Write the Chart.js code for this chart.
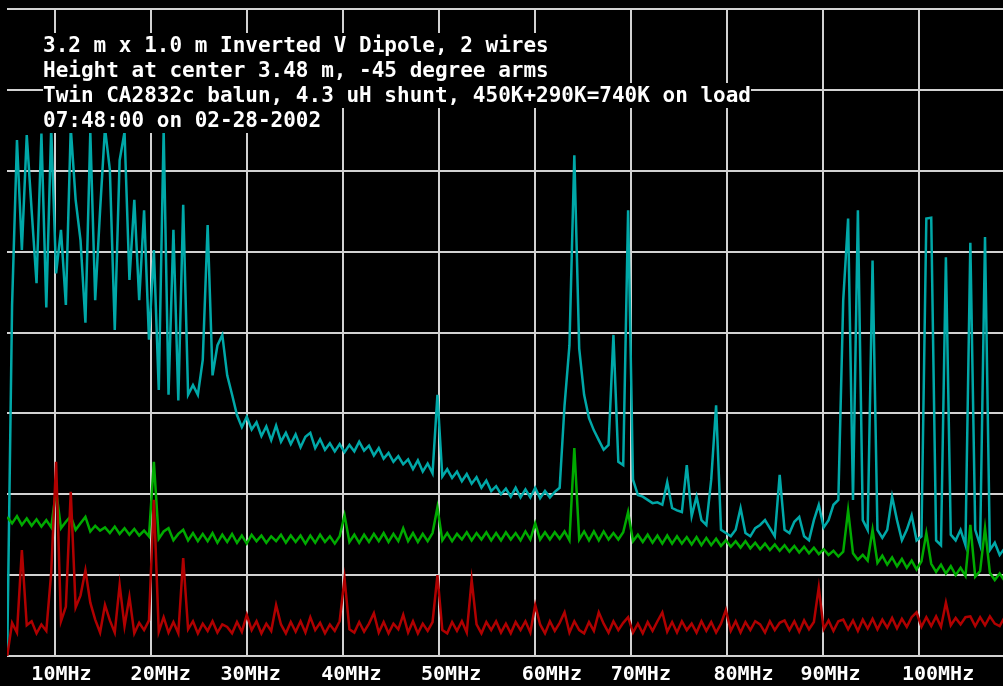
<!DOCTYPE html>
<html lang="en">
<head>
    <meta charset="UTF-8">
    <title>Inverted V Dipole - noise spectrum</title>
    <script src="https://cdn.jsdelivr.net/npm/chart.js"></script>
    <style>
        body { margin: 0; background: #000; }
        #wrap { position: relative; width: 1003px; height: 686px; }
        #notes {
            position: absolute; left: 43px; top: 33px;
            font: bold 21px/25px 'DejaVu Sans Mono', monospace;
            color: #fff;
        }
        #notes div { background: #000; width: fit-content; white-space: pre; }
    </style>
</head>
<body>
<div id="wrap">
    <canvas id="spectrum" width="1003" height="686"></canvas>
    <div id="notes">
        <div>3.2 m x 1.0 m Inverted V Dipole, 2 wires</div>
        <div>Height at center 3.48 m, -45 degree arms</div>
        <div>Twin CA2832c balun, 4.3 uH shunt, 450K+290K=740K on load</div>
        <div>07:48:00 on 02-28-2002</div>
    </div>
</div>

<script>
// sweep: one sample every 0.5 MHz starting at 4.6 MHz
const START_MHZ = 4.6;
const STEP_MHZ = 0.5;

// vertical grid lines and where the frequency labels sit (MHz)
const gridMHz = [9.49, 19.31, 29.13, 38.94, 48.76, 58.58, 68.40, 78.22, 88.03, 97.85];
const labelMHz = [10.15, 20.3, 29.5, 39.8, 50.0, 60.3, 69.4, 79.9, 88.8, 99.8];
const tickLabels = ['10MHz', '20MHz', '30MHz', '40MHz', '50MHz', '60MHz', '70MHz', '80MHz', '90MHz', '100MHz'];

// levels in dB above bottom line, 10 dB per division
const cyanTrace = [
    0, 43.4, 63.8, 50.2, 64.4, 55.1, 46.1, 64.6, 43.1, 65.3,
    47.3, 52.7, 43.4, 65.3, 56.4, 51.4, 41.2, 64.8, 44.0, 55.1,
    65.3, 60.1, 40.3, 61.3, 64.8, 46.5, 56.4, 44.0, 55.1, 39.1,
    50.2, 32.9, 65.0, 32.3, 52.7, 31.6, 55.8, 32.3, 33.5, 32.3,
    36.6, 53.3, 34.7, 38.4, 39.7, 34.7, 32.3, 29.8, 28.3, 29.6,
    28.0, 28.9, 27.2, 28.4, 26.7, 28.5, 26.5, 27.6, 26.2, 27.4,
    25.8, 27.1, 27.6, 25.7, 26.8, 25.5, 26.3, 25.3, 26.2, 25.2,
    26.1, 25.3, 26.5, 25.4, 26.0, 24.8, 25.7, 24.4, 25.1, 24.0,
    24.7, 23.7, 24.3, 23.1, 24.2, 22.8, 23.8, 22.6, 32.3, 22.2,
    23.1, 22.0, 22.8, 21.6, 22.5, 21.3, 22.1, 20.8, 21.7, 20.4,
    21.0, 20.0, 20.7, 19.7, 20.8, 19.6, 20.6, 19.6, 20.8, 19.5,
    20.4, 19.6, 20.3, 20.8, 31.0, 38.4, 61.9, 38.0, 32.3, 29.4,
    27.9, 26.7, 25.5, 26.1, 39.7, 24.0, 23.6, 55.1, 21.8, 19.9,
    19.7, 19.3, 18.9, 19.0, 18.7, 21.5, 18.3, 18.0, 17.8, 23.6,
    17.3, 19.7, 16.8, 16.2, 21.8, 31.0, 15.6, 15.2, 14.8, 15.6,
    18.3, 15.2, 14.8, 15.8, 16.2, 16.8, 15.8, 14.8, 22.4, 15.6,
    15.2, 16.6, 17.2, 14.8, 14.3, 16.8, 18.7, 15.9, 16.8, 18.7,
    19.3, 44.0, 54.1, 19.3, 55.1, 16.8, 15.6, 48.9, 15.6, 14.6,
    15.6, 19.7, 16.8, 14.3, 15.6, 17.4, 14.3, 14.8, 54.1, 54.2,
    14.3, 13.7, 49.3, 15.0, 14.3, 15.6, 13.7, 51.1, 15.6, 13.7,
    51.8, 13.1, 14.0, 12.5, 13.3
];

const greenTrace = [
    17.2, 16.4, 17.3, 16.2, 17.0, 16.1, 16.9, 16.0, 16.8, 15.9,
    20.5, 15.8, 16.6, 17.3, 15.6, 16.4, 17.2, 15.4, 16.1, 15.5,
    15.9, 15.2, 16.0, 15.1, 15.8, 15.0, 15.7, 14.9, 15.5, 14.8,
    24.0, 14.5, 15.4, 15.8, 14.3, 15.1, 15.6, 14.3, 15.2, 14.2,
    15.1, 14.2, 15.2, 14.0, 15.0, 14.1, 15.1, 14.0, 14.9, 13.9,
    15.0, 14.2, 14.9, 14.0, 14.8, 14.2, 15.0, 14.0, 14.9, 14.1,
    14.9, 13.9, 14.9, 14.0, 15.0, 14.1, 14.8, 13.9, 14.8, 17.4,
    14.1, 15.0, 14.0, 15.0, 14.1, 15.1, 14.2, 15.2, 14.1, 15.1,
    14.2, 15.8, 14.2, 15.2, 14.1, 15.1, 14.2, 15.2, 18.4, 14.3,
    15.2, 14.2, 15.1, 14.4, 15.3, 14.3, 15.2, 14.4, 15.3, 14.3,
    15.2, 14.3, 15.3, 14.4, 15.2, 14.3, 15.4, 14.4, 16.4, 14.4,
    15.3, 14.4, 15.3, 14.5, 15.4, 14.3, 25.7, 14.4, 15.4, 14.3,
    15.4, 14.3, 15.4, 14.4, 15.2, 14.4, 15.3, 17.8, 14.2, 15.0,
    14.1, 15.0, 14.0, 14.9, 13.9, 14.9, 13.9, 14.8, 13.9, 14.7,
    13.8, 14.7, 13.7, 14.6, 13.7, 14.5, 13.6, 14.3, 13.5, 14.2,
    13.4, 14.2, 13.3, 14.0, 13.2, 13.9, 13.1, 13.8, 13.0, 13.7,
    12.9, 13.6, 12.8, 13.5, 12.7, 13.4, 12.6, 13.2, 12.5, 13.0,
    12.3, 12.9, 18.0, 12.7, 11.9, 12.5, 11.8, 15.6, 11.5, 12.4,
    11.3, 12.2, 11.1, 12.0, 10.9, 11.8, 10.7, 11.7, 15.2, 11.4,
    10.4, 11.3, 10.2, 11.1, 10.0, 10.9, 9.9, 16.2, 9.8, 10.5,
    15.8, 10.3, 9.4, 10.2, 9.3
];

const redTrace = [
    0, 4.1, 2.9, 13.1, 3.8, 4.3, 2.8, 3.9, 3.1, 10.3,
    24.0, 4.3, 6.1, 20.3, 6.0, 7.5, 10.6, 6.6, 4.5, 2.9,
    6.3, 4.4, 2.9, 8.8, 3.7, 7.3, 2.8, 4.1, 3.2, 4.4,
    19.3, 3.0, 4.8, 2.9, 4.2, 2.8, 12.1, 3.3, 4.3, 2.8,
    4.0, 3.1, 4.3, 2.9, 3.9, 3.6, 2.8, 4.2, 3.0, 5.1,
    3.2, 4.3, 2.8, 4.0, 3.1, 6.3, 3.9, 2.8, 4.2, 3.0,
    4.3, 2.9, 4.8, 3.2, 4.1, 2.8, 3.9, 3.1, 4.3, 9.6,
    3.3, 2.9, 4.2, 3.0, 4.0, 5.3, 2.9, 4.2, 2.8, 4.0,
    3.3, 5.1, 2.9, 4.3, 2.8, 4.0, 3.1, 4.2, 10.0, 3.2,
    2.8, 4.2, 3.1, 4.3, 2.9, 9.4, 3.9, 2.8, 4.2, 3.2,
    4.3, 2.9, 4.0, 2.8, 4.2, 3.2, 4.3, 2.9, 6.3, 3.9,
    2.8, 4.3, 3.1, 4.1, 5.4, 2.9, 4.3, 3.2, 2.8, 4.2,
    3.1, 5.4, 4.0, 2.9, 4.3, 3.2, 4.1, 4.8, 2.9, 4.0,
    2.8, 4.2, 3.1, 4.3, 5.4, 3.0, 4.2, 2.9, 4.3, 3.2,
    4.0, 2.9, 4.3, 3.1, 4.2, 2.9, 4.0, 5.7, 3.1, 4.3,
    2.9, 4.2, 3.2, 4.3, 3.9, 2.9, 4.3, 3.2, 4.1, 4.4,
    3.2, 4.3, 3.0, 4.4, 3.3, 4.2, 8.5, 3.3, 4.4, 3.1,
    4.3, 4.5, 3.3, 4.4, 3.1, 4.5, 3.4, 4.6, 3.3, 4.5,
    3.5, 4.7, 3.4, 4.6, 3.6, 4.8, 5.4, 3.6, 4.8, 3.7,
    4.9, 3.6, 6.6, 3.8, 4.7, 3.9, 4.8, 4.9, 3.7, 4.8,
    3.8, 4.9, 4.0, 3.7, 4.8
];

const toPoints = arr => arr.map((v, i) => ({ x: START_MHZ + STEP_MHZ * i, y: v }));

const trace = (data, color) => ({
    data: toPoints(data),
    borderColor: color,
    borderWidth: 2.5,
    pointRadius: 0,
    tension: 0,
    fill: false
});

const GRID = '#d2d2d2';

new Chart(document.getElementById('spectrum'), {
    type: 'line',
    data: {
        // first dataset is painted last, so red ends up on top
        datasets: [
            trace(redTrace, '#b00000'),
            trace(greenTrace, '#00aa00'),
            trace(cyanTrace, '#00a8a8')
        ]
    },
    options: {
        responsive: false,
        animation: false,
        events: [],
        layout: { padding: { left: 7, top: 9, right: 0, bottom: 0 } },
        plugins: { legend: { display: false }, tooltip: { enabled: false } },
        scales: {
            x: {
                type: 'linear',
                position: 'bottom',
                min: 4.58,
                max: 106.44,
                afterBuildTicks: s => { s.ticks = gridMHz.map(v => ({ value: v })); },
                afterFit: s => { s.height = 0; },
                ticks: { display: false },
                grid: { color: GRID, lineWidth: 2, drawTicks: false },
                border: { display: false }
            },
            x2: {
                type: 'linear',
                position: 'bottom',
                min: 4.58,
                max: 106.44,
                afterBuildTicks: s => { s.ticks = labelMHz.map(v => ({ value: v })); },
                afterFit: s => { s.height = 30; },
                ticks: {
                    color: '#fff',
                    padding: 7,
                    maxRotation: 0,
                    autoSkip: false,
                    font: { family: 'DejaVu Sans Mono', size: 20, weight: 'bold' },
                    callback: (v, i) => tickLabels[i]
                },
                grid: { display: false, drawTicks: false },
                border: { display: false }
            },
            y: {
                min: 0,
                max: 80,
                afterFit: s => { s.width = 0; },
                ticks: { display: false, stepSize: 10 },
                grid: { color: GRID, lineWidth: 2, drawTicks: false },
                border: { display: false }
            }
        }
    }
});
</script>
</body>
</html>
